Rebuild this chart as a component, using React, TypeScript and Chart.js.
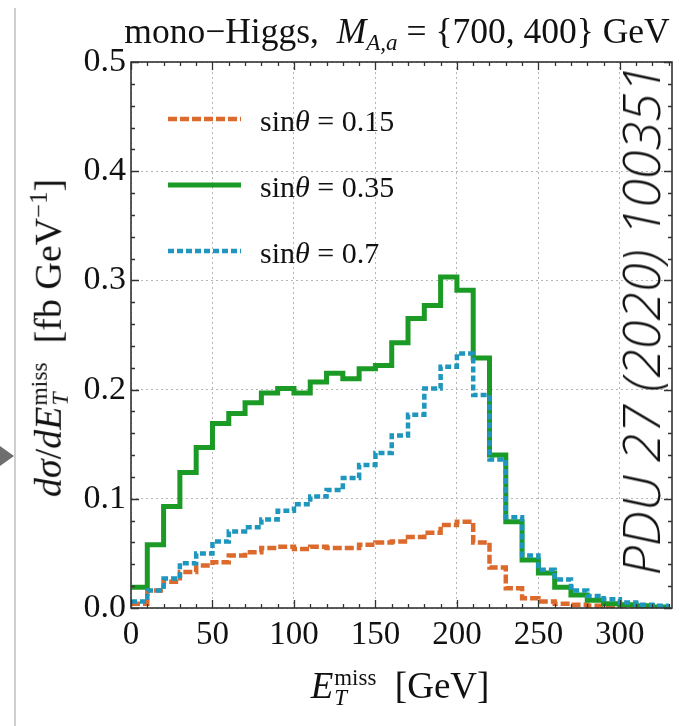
import React, { useEffect, useRef } from "react";
import { Chart, registerables } from "chart.js";

Chart.register(...registerables);

// ---- data ----
const binLeftEdges = [0, 10, 20, 30, 40, 50, 60, 70, 80, 90, 100, 110, 120, 130, 140, 150, 160, 170, 180, 190, 200, 210, 220, 230, 240, 250, 260, 270, 280, 290, 300, 310, 320];
const lastBinUpperEdge = 330;

const seriesNames = ["sinθ = 0.15", "sinθ = 0.35", "sinθ = 0.7"];
const seriesSinValues = ["0.15", "0.35", "0.7"];

const sinTheta015 = [0.004, 0.016, 0.024, 0.033, 0.039, 0.042, 0.048, 0.051, 0.055, 0.056, 0.054, 0.056, 0.055, 0.055, 0.058, 0.06, 0.061, 0.065, 0.069, 0.076, 0.079, 0.06, 0.037, 0.018, 0.009, 0.006, 0.004, 0.003, 0.002, 0.0015, 0.001, 0.001, 0.0005];
const sinTheta035 = [0.019, 0.058, 0.093, 0.124, 0.147, 0.169, 0.178, 0.188, 0.197, 0.201, 0.197, 0.207, 0.215, 0.21, 0.219, 0.222, 0.243, 0.265, 0.277, 0.303, 0.291, 0.229, 0.14, 0.079, 0.044, 0.032, 0.019, 0.012, 0.007, 0.004, 0.003, 0.002, 0.001];
const sinTheta07 = [0.006, 0.016, 0.027, 0.041, 0.05, 0.061, 0.07, 0.074, 0.081, 0.089, 0.095, 0.102, 0.108, 0.119, 0.131, 0.142, 0.158, 0.177, 0.201, 0.221, 0.233, 0.195, 0.136, 0.083, 0.048, 0.035, 0.026, 0.016, 0.011, 0.008, 0.005, 0.003, 0.002];

const xTickValues = [0, 50, 100, 150, 200, 250, 300];
const yTickValues = [0, 0.1, 0.2, 0.3, 0.4, 0.5];

// ---- styles ----
const COLORS = ["#dc6a2c", "#1c9a26", "#1f96bd"];
const SERIF = "'Liberation Serif', 'DejaVu Serif', serif";

const toSteps = (vals: number[]) => [
  ...binLeftEdges.map((x, i) => ({ x, y: vals[i] })),
  { x: lastBinUpperEdge, y: vals[vals.length - 1] },
];

const framePlugin = {
  id: "frameTicks",
  afterDatasetsDraw(chart: any) {
    const { ctx, chartArea } = chart;
    const xs = chart.scales.x;
    const ys = chart.scales.y;
    const { left, right, top, bottom } = chartArea;
    ctx.save();
    ctx.strokeStyle = "#333";
    ctx.lineWidth = 1.3;
    ctx.beginPath();
    for (let v = 0; v <= 330; v += 10) {
      const px = Math.round(xs.getPixelForValue(v)) + 0.5;
      const len = v % 50 === 0 ? 8 : 4;
      ctx.moveTo(px, bottom);
      ctx.lineTo(px, bottom - len);
      ctx.moveTo(px, top);
      ctx.lineTo(px, top + len);
    }
    for (let k = 0; k <= 25; k++) {
      const v = k * 0.02;
      const py = Math.round(ys.getPixelForValue(v)) + 0.5;
      const len = k % 5 === 0 ? 8 : 4;
      ctx.moveTo(left, py);
      ctx.lineTo(left + len, py);
      ctx.moveTo(right, py);
      ctx.lineTo(right - len, py);
    }
    ctx.stroke();
    ctx.lineWidth = 1.6;
    ctx.strokeRect(left, top, right - left, bottom - top);
    ctx.restore();
  },
};

const legendPlugin = {
  id: "customLegend",
  afterDraw(chart: any) {
    const { ctx, chartArea } = chart;
    const x0 = chartArea.left + 37;
    const y0 = chartArea.top + 57;
    const gap = 66;
    const sampleLen = 73;
    ctx.save();
    chart.data.datasets.forEach((ds: any) => {
      const order = ds.legendIndex;
      const y = y0 + order * gap;
      ctx.strokeStyle = ds.borderColor;
      ctx.lineWidth = ds.borderWidth;
      ctx.setLineDash(ds.borderDash || []);
      ctx.beginPath();
      ctx.moveTo(x0, y);
      ctx.lineTo(x0 + sampleLen, y);
      ctx.stroke();
      ctx.setLineDash([]);
      ctx.fillStyle = "#111";
      ctx.textBaseline = "middle";
      let tx = x0 + sampleLen + 19;
      const ty = y + 4;
      ctx.font = `30px ${SERIF}`;
      ctx.fillText("sin", tx, ty);
      tx += ctx.measureText("sin").width;
      ctx.font = `italic 30px ${SERIF}`;
      ctx.fillText("θ", tx, ty);
      tx += ctx.measureText("θ").width;
      ctx.font = `30px ${SERIF}`;
      ctx.fillText(" = " + ds.sinValue, tx, ty);
    });
    ctx.restore();
  },
};

function MissET() {
  return (
    <span>
      <i>E</i>
      <span style={{ display: "inline-block", verticalAlign: "-0.32em", lineHeight: "0.9", fontSize: "0.62em", textAlign: "left", marginLeft: "1px" }}>
        <span style={{ display: "block" }}>miss</span>
        <span style={{ display: "block", fontStyle: "italic" }}>T</span>
      </span>
    </span>
  );
}

export default function App() {
  const canvasRef = useRef<HTMLCanvasElement | null>(null);

  useEffect(() => {
    if (!canvasRef.current) return;
    const chart = new Chart(canvasRef.current, {
      type: "line",
      data: {
        datasets: [
          {
            label: seriesNames[2],
            data: toSteps(sinTheta07),
            borderColor: COLORS[2],
            borderWidth: 4.5,
            borderDash: [6, 3],
            stepped: true,
            pointRadius: 0,
            fill: false,
            order: 1,
            legendIndex: 2,
            sinValue: seriesSinValues[2],
          } as any,
          {
            label: seriesNames[1],
            data: toSteps(sinTheta035),
            borderColor: COLORS[1],
            borderWidth: 5,
            stepped: true,
            pointRadius: 0,
            fill: false,
            order: 2,
            legendIndex: 1,
            sinValue: seriesSinValues[1],
          } as any,
          {
            label: seriesNames[0],
            data: toSteps(sinTheta015),
            borderColor: COLORS[0],
            borderWidth: 4.5,
            borderDash: [9, 3],
            stepped: true,
            pointRadius: 0,
            fill: false,
            order: 3,
            legendIndex: 0,
            sinValue: seriesSinValues[0],
          } as any,
        ],
      },
      options: {
        animation: false,
        responsive: false,
        maintainAspectRatio: false,
        layout: { padding: { left: 0, right: 17, top: 62, bottom: 0 } },
        plugins: {
          legend: { display: false },
          tooltip: { enabled: false },
          title: { display: false },
        },
        scales: {
          x: {
            type: "linear",
            min: 0,
            max: 332,
            afterBuildTicks: (scale: any) => {
              scale.ticks = xTickValues.map((v) => ({ value: v }));
            },
            afterFit: (scale: any) => {
              scale.height = 118;
            },
            ticks: {
              color: "#111",
              font: { family: SERIF, size: 33 },
              padding: 8,
              maxRotation: 0,
              callback: (v: any) => String(v),
            },
            grid: { color: "#b5b5b5", lineWidth: 1, drawTicks: false },
            border: { display: false, dash: [2, 3] },
          },
          y: {
            type: "linear",
            min: 0,
            max: 0.5,
            afterBuildTicks: (scale: any) => {
              scale.ticks = yTickValues.map((v) => ({ value: v }));
            },
            afterFit: (scale: any) => {
              scale.width = 131;
            },
            ticks: {
              color: "#111",
              font: { family: SERIF, size: 34 },
              padding: 5,
              callback: (v: any) => Number(v).toFixed(1),
            },
            grid: { color: "#b5b5b5", lineWidth: 1, drawTicks: false },
            border: { display: false, dash: [2, 3] },
          },
        },
      } as any,
      plugins: [framePlugin, legendPlugin],
    });
    return () => chart.destroy();
  }, []);

  return (
    <div style={{ position: "absolute", left: 0, top: 0, width: 689, height: 726, background: "#fff", overflow: "hidden", fontFamily: SERIF, color: "#111" }}>
      <div style={{ position: "absolute", left: 14, top: 8, width: 2, height: 718, background: "#cfcfcf" }} />
      <div style={{ position: "absolute", left: 0, top: 446, width: 0, height: 0, borderTop: "10px solid transparent", borderBottom: "10px solid transparent", borderLeft: "14px solid #6f6f6f" }} />
      <canvas ref={canvasRef} width={689} height={726} style={{ position: "absolute", left: 0, top: 0, width: 689, height: 726 }} />
      <div style={{ position: "absolute", left: 397, top: 10, transform: "translateX(-50%)", whiteSpace: "nowrap", fontSize: 35.5, lineHeight: "42px" }}>
        mono−Higgs,&nbsp; <i>M</i>
        <sub style={{ fontSize: "0.65em", verticalAlign: "-0.3em" }}><i>A,a</i></sub> = {"{"}700, 400{"}"} GeV
      </div>
      <div style={{ position: "absolute", left: 400, top: 664, transform: "translateX(-50%)", whiteSpace: "nowrap", fontSize: 37, lineHeight: "44px" }}>
        <MissET />&nbsp; [GeV]
      </div>
      <div style={{ position: "absolute", left: 44, top: 338, transform: "translate(-50%, -50%) rotate(-90deg)", whiteSpace: "nowrap", fontSize: 38, lineHeight: "44px" }}>
        <i>dσ</i>/<i>d</i><MissET />&nbsp; [fb GeV<sup style={{ fontSize: "0.65em" }}>−1</sup>]
      </div>
      <div style={{ position: "absolute", left: 640, top: 320, transform: "translate(-50%, -50%) rotate(-90deg)", whiteSpace: "nowrap", fontSize: 52, lineHeight: "56px", fontFamily: "'Open Sans', 'Liberation Sans', sans-serif", fontWeight: 300, fontStyle: "italic", color: "#111" }}>
        PDU 27 (2020) 100351
      </div>
    </div>
  );
}
